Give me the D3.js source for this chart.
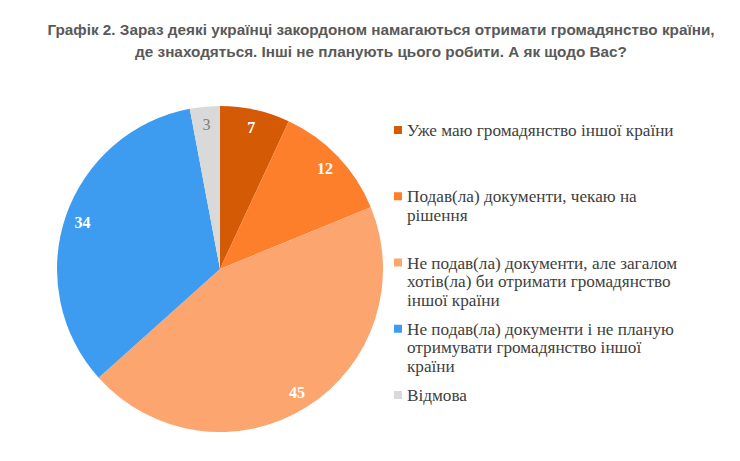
<!DOCTYPE html>
<html>
<head>
<meta charset="utf-8">
<script src="https://cdn.jsdelivr.net/npm/d3@7"></script>
<style>
  body { margin: 0; background: #fff; }
  svg { display: block; }
</style>
</head>
<body>
<svg id="chart" width="740" height="461"></svg>
<script>
// data
var titleLines = [
  "Графік 2. Зараз деякі українці закордоном намагаються отримати громадянство країни,",
  "де знаходяться. Інші не планують цього робити. А як щодо Вас?"
];
var categories = [
  "Уже маю громадянство іншої країни",
  "Подав(ла) документи, чекаю на\nрішення",
  "Не подав(ла) документи, але загалом\nхотів(ла) би отримати громадянство\nіншої країни",
  "Не подав(ла) документи і не планую\nотримувати громадянство іншої\nкраїни",
  "Відмова"
];
var values = [7, 12, 45, 34, 3];
var colors = ["#d55a06", "#fd7f2c", "#fca56f", "#3e9cf0", "#d9d9d9"];
var labelColors = ["#fff", "#fff", "#fff", "#fff", "#7f7f7f"];

var width = 740, height = 461;
var cx = 220, cy = 269, radius = 163;
var serif = "'Liberation Serif'";

var svg = d3.select("#chart");

// title
svg.append("g")
  .selectAll("text")
  .data(titleLines)
  .join("text")
    .attr("x", 381)
    .attr("y", function(d, i) { return 35 + i * 22; })
    .attr("text-anchor", "middle")
    .style("font-family", "'Liberation Sans'")
    .style("font-weight", "bold")
    .style("font-size", "15.3px")
    .style("fill", "#595959")
    .text(function(d) { return d; });

var pie = d3.pie().sort(null).value(function(d) { return d; });
var arc = d3.arc().innerRadius(0).outerRadius(radius);
var labelArc = d3.arc().innerRadius(radius * 0.89).outerRadius(radius * 0.89);

var arcs = pie(values);

var g = svg.append("g").attr("transform", "translate(" + cx + "," + cy + ")");

g.selectAll("path")
  .data(arcs)
  .join("path")
    .attr("d", arc)
    .attr("fill", function(d, i) { return colors[i]; });

g.selectAll("text")
  .data(arcs)
  .join("text")
    .attr("transform", function(d) { return "translate(" + labelArc.centroid(d) + ")"; })
    .attr("text-anchor", "middle")
    .attr("dy", "0.35em")
    .style("font-family", serif)
    .style("font-size", "16px")
    .style("font-weight", function(d, i) { return i == 4 ? "normal" : "bold"; })
    .style("fill", function(d, i) { return labelColors[i]; })
    .text(function(d) { return d.data; });

// legend
var ly = d3.scaleLinear().domain([0, categories.length - 1]).range([130, 395]);

var legend = svg.append("g")
  .selectAll("g")
  .data(categories)
  .join("g")
    .attr("transform", function(d, i) { return "translate(394," + ly(i) + ")"; });

legend.append("rect")
  .attr("x", 0)
  .attr("y", -4)
  .attr("width", 8)
  .attr("height", 8)
  .attr("fill", function(d, i) { return colors[i]; });

legend.append("text")
  .style("font-family", serif)
  .style("font-size", "17.2px")
  .style("fill", "#404040")
  .selectAll("tspan")
  .data(function(d) { return d.split("\n"); })
  .join("tspan")
    .attr("x", 13)
    .attr("y", function(d, i) { return i * 18.5; })
    .attr("dy", "0.35em")
    .text(function(d) { return d; });
</script>
</body>
</html>
